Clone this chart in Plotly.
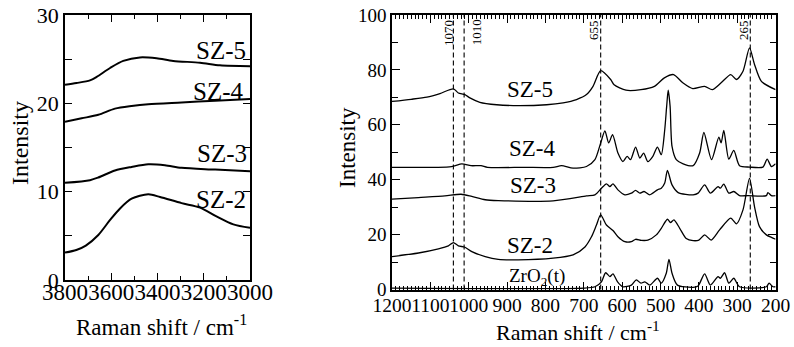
import plotly.graph_objects as go

FONT = "Times New Roman"

# ---------------- Left panel: O-H stretching region ----------------
L_SZ5_X = [3800, 3750, 3692, 3663, 3605, 3548, 3476, 3404, 3332, 3216, 3130, 3000]
L_SZ5_Y = [22.1, 22.3, 22.6, 23.0, 24.0, 24.8, 25.2, 25.1, 24.8, 24.6, 24.3, 24.2]
L_SZ4_X = [3800, 3728, 3656, 3584, 3512, 3440, 3296, 3151, 3000]
L_SZ4_Y = [17.9, 18.3, 18.7, 19.4, 19.7, 19.9, 20.1, 20.3, 20.5]
L_SZ3_X = [3800, 3692, 3656, 3584, 3512, 3440, 3368, 3296, 3151, 3000]
L_SZ3_Y = [11.0, 11.3, 11.6, 12.4, 12.8, 13.1, 13.0, 12.7, 12.5, 12.3]
L_SZ2_X = [3800, 3751, 3710, 3656, 3605, 3562, 3512, 3440, 3389, 3296, 3216, 3145, 3072, 3000]
L_SZ2_Y = [3.1, 3.4, 3.9, 5.1, 6.8, 8.1, 9.2, 9.7, 9.4, 8.7, 8.2, 7.2, 6.3, 5.9]

L_LABELS = ["SZ-5", "SZ-4", "SZ-3", "SZ-2"]
L_LABEL_X = [3125, 3137, 3122, 3125]
L_LABEL_Y = [26.0, 21.3, 14.3, 9.1]

# ---------------- Right panel: low-wavenumber region ----------------
SZ5_X = [1200, 1150, 1109, 1075, 1040, 1027, 1010, 997, 971, 927, 884, 797, 754, 719, 693,
         676, 656, 630, 621, 590, 551, 516, 490, 466, 442, 416, 385, 365, 342, 317, 302,
         285, 268, 255, 237, 200]
SZ5_Y = [68.5, 69.3, 70.1, 71.4, 73.1, 71.6, 71.0, 69.8, 68.2, 67.3, 67.0, 67.3, 68.0, 69.2, 71.0,
         74.0, 79.7, 76.5, 74.6, 72.6, 72.8, 74.0, 77.1, 78.3, 75.3, 73.2, 74.0, 72.8, 75.3, 78.3, 76.5,
         79.5, 88.0, 82.0, 75.8, 72.8]

SZ4_X = [1200, 1045, 1018, 994, 968, 951, 855, 780, 758, 728, 693, 671, 656, 645, 635, 625,
         611, 598, 587, 578, 565, 554, 544, 533, 520, 508, 498, 489, 484, 480, 475, 470, 459,
         441, 415, 398, 387, 367, 348, 342, 335, 322, 309, 294, 268, 233, 222, 211, 200]
SZ4_Y = [44.5, 44.8, 45.8, 45.1, 45.1, 44.5, 44.5, 44.5, 45.1, 44.2, 44.8, 47.3, 53.4, 57.8, 53.4, 56.4,
         49.7, 46.6, 48.5, 47.3, 51.9, 47.9, 49.7, 46.6, 48.5, 51.9, 49.1, 58.2, 66.7, 72.6, 66.7, 52.1, 47.3,
         45.8, 45.1, 49.7, 57.2, 47.3, 55.5, 53.4, 58.0, 47.5, 50.7, 45.1, 44.6, 44.6, 47.5, 44.8, 45.8]

SZ3_X = [1200, 1131, 1062, 1020, 992, 957, 923, 780, 693, 671, 654, 641, 632, 624, 611, 593,
         576, 565, 554, 543, 528, 508, 498, 489, 482, 470, 454, 415, 402, 385, 370, 350, 344,
         335, 322, 309, 294, 272, 224, 220, 211, 200]
SZ3_Y = [32.9, 33.5, 34.1, 34.7, 33.9, 32.7, 32.4, 32.3, 34.1, 34.5, 36.9, 38.5, 37.5, 38.5, 36.3, 34.5,
         35.1, 36.1, 35.1, 35.7, 34.5, 36.3, 36.9, 38.8, 43.4, 38.1, 35.3, 34.5, 35.1, 38.1, 35.1, 37.5, 36.9,
         38.4, 35.1, 35.7, 34.2, 34.2, 34.2, 35.3, 34.2, 34.2]

SZ2_X = [1200, 1131, 1079, 1053, 1040, 1027, 1010, 992, 957, 923, 871, 780, 728, 697, 680, 667,
         656, 641, 624, 611, 593, 576, 565, 550, 533, 511, 498, 482, 474, 465, 450, 433, 415,
         400, 385, 368, 346, 317, 302, 285, 268, 255, 242, 224, 211, 200]
SZ2_Y = [12.0, 13.3, 14.8, 15.9, 17.1, 15.9, 15.4, 13.8, 12.0, 11.0, 10.8, 11.4, 12.6, 15.5, 19.2, 23.5,
         27.2, 23.5, 21.5, 19.2, 17.4, 17.4, 18.3, 17.9, 18.0, 19.9, 22.3, 25.6, 24.4, 25.4, 22.3, 18.6, 17.8,
         18.0, 19.9, 18.0, 21.7, 26.0, 23.9, 29.0, 40.5, 30.2, 22.9, 19.9, 19.0, 18.3]

ZRO_X = [1200, 700, 671, 654, 643, 632, 624, 612, 598, 576, 563, 551, 541, 528, 508, 498, 485,
         478, 470, 456, 415, 402, 385, 370, 350, 344, 333, 322, 309, 294, 224, 217, 207, 200]
ZRO_Y = [0.5, 0.5, 1.0, 2.8, 6.1, 4.7, 5.7, 2.8, 1.0, 1.6, 3.5, 2.3, 2.8, 1.6, 4.1, 2.3, 5.9,
         11.0, 5.9, 1.6, 0.8, 1.3, 5.7, 1.6, 4.7, 4.1, 6.1, 2.3, 4.1, 1.0, 1.0, 2.3, 1.0, 1.0]

R_LABELS = ["SZ-5", "SZ-4", "SZ-3", "SZ-2"]
R_LABEL_X = [840, 833, 833, 840]
R_LABEL_Y = [72.8, 51.2, 37.8, 16.2]
ZRO_LABEL = "ZrO<sub>2</sub>(t)"
ZRO_LABEL_X = 821
ZRO_LABEL_Y = 4.7

MARK_X = [1040, 1012, 656, 266]
MARK_TEXT = ["1070", "1010", "655", "265"]
MARK_TEXT_X = [1053, 979, 675, 284]
MARK_TEXT_Y = [93.6, 93.6, 94.7, 94.7]

fig = go.Figure()

line_l = dict(color="black", width=2.0, shape="spline", smoothing=0.8)
for xs, ys in [(L_SZ5_X, L_SZ5_Y), (L_SZ4_X, L_SZ4_Y), (L_SZ3_X, L_SZ3_Y), (L_SZ2_X, L_SZ2_Y)]:
    fig.add_trace(go.Scatter(x=xs, y=ys, mode="lines", line=line_l, xaxis="x", yaxis="y",
                             showlegend=False, hoverinfo="skip"))

line_r = dict(color="black", width=1.3, shape="spline", smoothing=0.7)
for xs, ys in [(SZ5_X, SZ5_Y), (SZ4_X, SZ4_Y), (SZ3_X, SZ3_Y), (SZ2_X, SZ2_Y), (ZRO_X, ZRO_Y)]:
    fig.add_trace(go.Scatter(x=xs, y=ys, mode="lines", line=line_r, xaxis="x2", yaxis="y2",
                             showlegend=False, hoverinfo="skip"))

for mx in MARK_X:
    fig.add_shape(type="line", xref="x2", yref="y2 domain", x0=mx, x1=mx, y0=0, y1=1,
                  line=dict(color="black", width=1.1, dash="5px,3px"))


def txt(text, x, y, xref, yref, size, angle=0):
    return dict(text=text, x=x, y=y, xref=xref, yref=yref, showarrow=False, textangle=angle,
                xanchor="center", yanchor="middle",
                font=dict(family=FONT, size=size, color="black"))


ann = []
for t, x, y in zip(L_LABELS, L_LABEL_X, L_LABEL_Y):
    ann.append(txt(t, x, y, "x", "y", 25))
for t, x, y in zip(R_LABELS, R_LABEL_X, R_LABEL_Y):
    ann.append(txt(t, x, y, "x2", "y2", 23))
ann.append(txt(ZRO_LABEL, ZRO_LABEL_X, ZRO_LABEL_Y, "x2", "y2", 19))
for t, x, y in zip(MARK_TEXT, MARK_TEXT_X, MARK_TEXT_Y):
    ann.append(txt(t, x, y, "x2", "y2", 13, -90))

W, H = 794, 347
ann += [
    txt("Intensity", 20 / W, 1 - 143 / H, "paper", "paper", 24, -90),
    txt("Raman shift / cm<sup>-1</sup>", 161 / W, 1 - 325 / H, "paper", "paper", 23),
    txt("Intensity", 348 / W, 1 - 148 / H, "paper", "paper", 23, -90),
    txt("Raman shift / cm<sup>-1</sup>", 578 / W, 1 - 331 / H, "paper", "paper", 22),
]

axis_common = dict(showline=True, linecolor="black", linewidth=1.5, mirror="ticks", ticks="inside",
                   tickcolor="black", showgrid=False, zeroline=False, tickangle=0, automargin=False)

fig.update_layout(
    width=W, height=H, margin=dict(l=0, r=0, t=0, b=0, autoexpand=False),
    paper_bgcolor="white", plot_bgcolor="white",
    font=dict(family=FONT, color="black"),
    annotations=ann,
    xaxis=dict(axis_common, domain=[65 / W, 250 / W], range=[3800, 3000], tick0=3000, dtick=200,
               ticklen=7, tickwidth=1.2, ticklabelstandoff=-9,
               minor=dict(ticks="inside", dtick=100, ticklen=4, tickcolor="black", tickwidth=1.2),
               tickfont=dict(family=FONT, size=23, color="black")),
    yaxis=dict(axis_common, domain=[1 - 280 / H, 1 - 15 / H], range=[0, 30], dtick=10,
               ticklen=7, tickwidth=1.2,
               minor=dict(ticks="inside", dtick=5, ticklen=7, tickcolor="black", tickwidth=1.2),
               tickfont=dict(family=FONT, size=22, color="black")),
    xaxis2=dict(axis_common, domain=[392 / W, 775.6 / W], range=[1200, 200], tick0=200, dtick=100,
                ticklen=8, tickwidth=1.2, anchor="y2", ticklabelstandoff=-3,
                minor=dict(ticks="inside", dtick=10, ticklen=4, tickcolor="black", tickwidth=1),
                tickfont=dict(family=FONT, size=19.5, color="black")),
    yaxis2=dict(axis_common, domain=[1 - 289.5 / H, 1 - 15 / H], range=[0, 100], dtick=20,
                ticklen=8, tickwidth=1.2, anchor="x2",
                minor=dict(ticks="inside", dtick=10, ticklen=6, tickcolor="black", tickwidth=1.2),
                tickfont=dict(family=FONT, size=19, color="black")),
)

fig.write_html("out.html")
